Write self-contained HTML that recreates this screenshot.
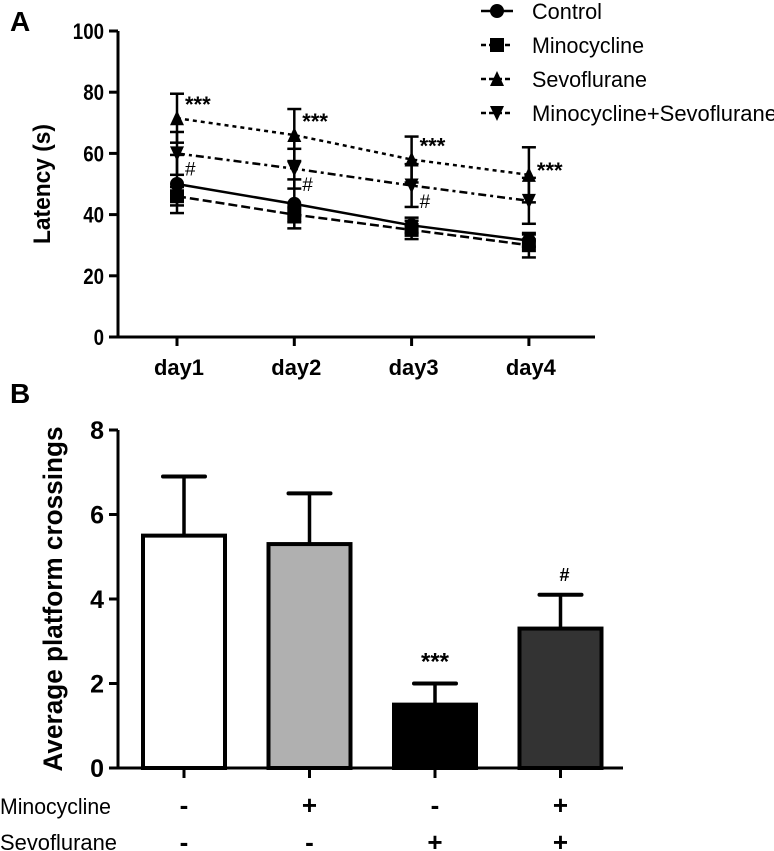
<!DOCTYPE html>
<html><head><meta charset="utf-8"><style>
body{margin:0;background:#fff;}
svg{display:block;font-family:"Liberation Sans",Arial,sans-serif;}
</style></head><body>
<svg id="s" width="774" height="851" viewBox="0 0 774 851">
<text x="10" y="31" font-size="28" font-weight="bold">A</text>
<text x="10" y="403" font-size="28" font-weight="bold">B</text>
<g id="ga"></g>
<g id="gb"></g>
</svg>
<script>
const days=["day1","day2","day3","day4"];
const yTicksA=[0,20,40,60,80,100];
const seriesNames=["Control","Minocycline","Sevoflurane","Minocycline+Sevoflurane"];
const control=[50,43.5,36.5,31.5];
const controlErr=[9.5,8,2.5,2];
const mino=[46,40,35,30];
const minoErr=[3,2.5,3,4];
const sevo=[71.5,66,58,53];
const sevoErr=[8,8.5,7.5,9];
const ms=[60,55,49.5,44.5];
const msErr=[7,6.5,7,7.5];
const sigA=["***","***","***","***"];
const sigMS=["#","#","#",""];
const groups=["g1","g2","g3","g4"];
const crossings=[5.5,5.3,1.5,3.3];
const crossErr=[1.4,1.2,0.5,0.8];
const yTicksB=[0,2,4,6,8];
const minoRow=["-","+","-","+"];
const sevoRow=["-","-","+","+"];
const sigB=["","","***","#"];

const NS="http://www.w3.org/2000/svg";
function mk(p,t,a){const e=document.createElementNS(NS,t);for(const k in a)e.setAttribute(k,a[k]);p.appendChild(e);return e;}
const ga=document.getElementById('ga'),gb=document.getElementById('gb');
const ax=i=>177+i*117.3, ay=v=>337-v*3.06;
let e=mk(ga,'line',{x1:110,y1:ay(0),x2:595,y2:ay(0),stroke:'#000','stroke-width':3});

e=mk(ga,'line',{x1:118,y1:ay(0)+1.5,x2:118,y2:ay(100),stroke:'#000','stroke-width':3});

yTicksA.forEach(v=>{mk(ga,'line',{x1:109,y1:ay(v),x2:118,y2:ay(v),stroke:'#000','stroke-width':3});
 e=mk(ga,'text',{x:104,y:ay(v)+8,'text-anchor':'end','font-size':22,'font-weight':'bold','transform':`translate(104,0) scale(0.85,1) translate(-104,0)`});e.textContent=v;
 });
days.forEach((d,i)=>{mk(ga,'line',{x1:ax(i),y1:ay(0),x2:ax(i),y2:ay(0)+9,stroke:'#000','stroke-width':3});
 e=mk(ga,'text',{x:ax(i)+2,y:375,'text-anchor':'middle','font-size':22,'font-weight':'bold','textLength':50,'lengthAdjust':'spacingAndGlyphs'});e.textContent=d;
 });
e=mk(ga,'text',{x:0,y:0,transform:`translate(50,${ay(50)}) rotate(-90)`,'text-anchor':'middle','font-size':24,'font-weight':'bold','textLength':120,'lengthAdjust':'spacingAndGlyphs'});
e.textContent='Latency (s)';
const ser=[[control,controlErr,'','circle'],[mino,minoErr,'9,4','square'],[sevo,sevoErr,'4,4','tri'],[ms,msErr,'8,4,3,4','itri']];
function marker(p,t,x,y,s){s=s||6;
 if(t==='circle')return mk(p,'circle',{cx:x,cy:y,r:s});
 if(t==='square')return mk(p,'rect',{x:x-s,y:y-s,width:2*s,height:2*s});
 if(t==='tri')return mk(p,'polygon',{points:`${x},${y-s-1} ${x-s},${y+s} ${x+s},${y+s}`});
 return mk(p,'polygon',{points:`${x},${y+s+1} ${x-s},${y-s} ${x+s},${y-s}`});}
ser.forEach((s,k)=>{const g=mk(ga,'g',{});
 
 const vals=s[0],err=s[1];
 e=mk(g,'polyline',{points:vals.map((v,i)=>ax(i)+','+ay(v)).join(' '),fill:'none',stroke:'#000','stroke-width':2.5,'stroke-dasharray':s[2]});
 
 vals.forEach((v,i)=>{
  mk(g,'line',{x1:ax(i),y1:ay(v-err[i]),x2:ax(i),y2:ay(v+err[i]),stroke:'#000','stroke-width':2.5});
  [v-err[i],v+err[i]].forEach(w=>mk(g,'line',{x1:ax(i)-7,y1:ay(w),x2:ax(i)+7,y2:ay(w),stroke:'#000','stroke-width':2.5}));
  e=marker(g,s[3],ax(i),ay(v),7);
 });});
sevo.forEach((v,i)=>{e=mk(ga,'text',{x:ax(i)+8,y:ay(v+(i==3?1:4))+6,'font-size':22,'font-weight':'bold'});e.textContent=sigA[i];
 });
ms.forEach((v,i)=>{if(!sigMS[i])return;e=mk(ga,'text',{x:ax(i)+8,y:ay(v-5)+7,'font-size':19});e.textContent=sigMS[i];
 });
ser.forEach((s,k)=>{const y=11+k*34;const g=mk(ga,'g',{});
 
 mk(g,'line',{x1:481,y1:y,x2:513,y2:y,stroke:'#000','stroke-width':2.5,'stroke-dasharray':s[2]?'5,3':''});
 marker(g,s[3],497,y,7);
 const t=mk(g,'text',{x:532,y:y+8,'font-size':22,'textLength':[70,112,115,245][k],'lengthAdjust':'spacingAndGlyphs'});t.textContent=seriesNames[k];});
const bx=i=>184+i*125.5, by=v=>768-v*42.25;
e=mk(gb,'line',{x1:112,y1:by(0),x2:623,y2:by(0),stroke:'#000','stroke-width':3});

e=mk(gb,'line',{x1:118,y1:by(0),x2:118,y2:by(8),stroke:'#000','stroke-width':3});

yTicksB.forEach(v=>{mk(gb,'line',{x1:109,y1:by(v),x2:118,y2:by(v),stroke:'#000','stroke-width':3});
 e=mk(gb,'text',{x:104,y:by(v)+9,'text-anchor':'end','font-size':25,'font-weight':'bold'});e.textContent=v;
 });
e=mk(gb,'text',{x:0,y:0,transform:`translate(62,${by(4)}) rotate(-90)`,'text-anchor':'middle','font-size':27,'font-weight':'bold','textLength':345,'lengthAdjust':'spacingAndGlyphs'});
e.textContent='Average platform crossings';
const fills=['#fff','#b0b0b0','#000','#333'];
crossings.forEach((v,i)=>{const x=bx(i);
 mk(gb,'line',{x1:x,y1:by(v),x2:x,y2:by(v+crossErr[i]),stroke:'#000','stroke-width':3.5});
 mk(gb,'line',{x1:x-21,y1:by(v+crossErr[i]),x2:x+21,y2:by(v+crossErr[i]),stroke:'#000','stroke-width':4,'stroke-linecap':'round'});
 e=mk(gb,'rect',{x:x-41,y:by(v),width:82,height:by(0)-by(v),fill:fills[i],stroke:'#000','stroke-width':4});
 
 mk(gb,'line',{x1:x,y1:by(0),x2:x,y2:by(0)+10,stroke:'#000','stroke-width':3});
 if(sigB[i]){e=mk(gb,'text',{x:x+(i==3?4:0),y:by(v+crossErr[i])-14,'text-anchor':'middle','font-size':sigB[i]=='#'?18:24,'font-weight':'bold'});e.textContent=sigB[i];
  }
 e=mk(gb,'text',{x:x,y:814,'text-anchor':'middle','font-size':26,'font-weight':'bold'});e.textContent=minoRow[i];
 
 e=mk(gb,'text',{x:x,y:851,'text-anchor':'middle','font-size':26,'font-weight':'bold'});e.textContent=sevoRow[i];
 
});
e=mk(gb,'text',{x:0,y:814,'font-size':22,'textLength':111,'lengthAdjust':'spacingAndGlyphs'});e.textContent='Minocycline';

e=mk(gb,'text',{x:0,y:850,'font-size':22,'textLength':117,'lengthAdjust':'spacingAndGlyphs'});e.textContent='Sevoflurane';

</script>
</body></html>
